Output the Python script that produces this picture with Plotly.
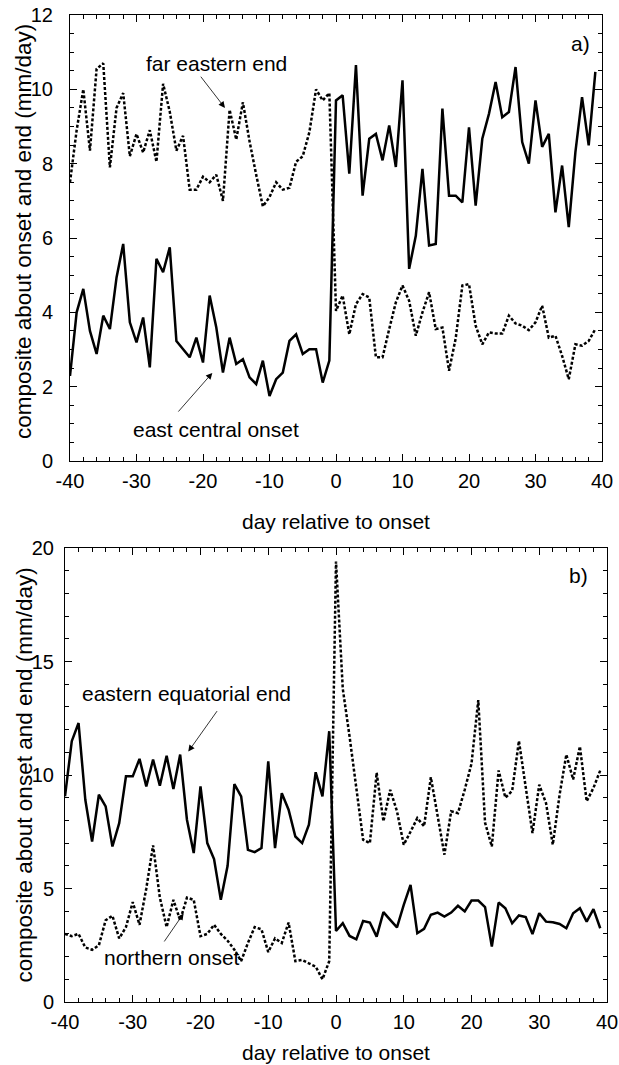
import plotly.graph_objects as go

days = list(range(-40, 40))
day_ticks = [-40, -30, -20, -10, 0, 10, 20, 30, 40]
day_tick_labels = ["-40", "-30", "-20", "-10", "0", "10", "20", "30", "40"]

# panel a) far eastern end / east central onset
east_central_onset = [
    2.29, 4.0, 4.63, 3.5, 2.88, 3.91, 3.55, 4.94, 5.84, 3.73,
    3.19, 3.86, 2.52, 5.44, 5.08, 5.75, 3.23, 3.01, 2.79, 3.32,
    2.65, 4.45, 3.59, 2.38, 3.32, 2.61, 2.74, 2.25, 2.07, 2.7,
    1.75, 2.2, 2.38, 3.23, 3.41, 2.88, 3.01, 3.01, 2.11, 2.7,
    9.7, 9.84, 7.73, 10.65, 7.14, 8.67, 8.8, 8.09, 9.03, 7.91,
    10.24, 5.17, 6.06, 7.86, 5.8, 5.84, 9.48, 7.14, 7.14, 6.96,
    8.98, 6.87, 8.67, 9.34, 10.2, 9.25, 9.39, 10.6, 8.58, 8.0,
    9.7, 8.45, 8.8, 6.69, 7.95, 6.29, 8.31, 9.79, 8.49, 10.47,
]
far_eastern_end = [
    7.5, 8.9, 10.0, 8.35, 10.55, 10.7, 7.9, 9.5, 9.9, 8.2,
    8.8, 8.3, 8.9, 8.05, 10.15, 9.4, 8.35, 8.75, 7.3, 7.3,
    7.65, 7.5, 7.7, 7.0, 9.45, 8.65, 9.65, 8.6, 7.7, 6.85,
    7.1, 7.5, 7.3, 7.35, 8.05, 8.2, 8.85, 10.0, 9.7, 9.9,
    4.04, 4.45, 3.41, 4.22, 4.49, 4.4, 2.79, 2.79, 3.55, 4.27,
    4.72, 4.31, 3.37, 4.0, 4.54, 3.55, 3.59, 2.43, 3.3, 4.72,
    4.76, 3.64, 3.14, 3.46, 3.43, 3.43, 3.91, 3.7, 3.64, 3.52,
    3.73, 4.18, 3.32, 3.37, 2.83, 2.2, 3.14, 3.1, 3.23, 3.55,
]

# panel b) eastern equatorial end / northern onset
eastern_equatorial_end = [
    9.06, 11.49, 12.29, 8.91, 7.07, 9.13, 8.62, 6.85, 7.88, 9.94,
    9.94, 10.71, 9.5, 10.68, 9.53, 10.85, 9.38, 10.9, 8.03, 6.56,
    9.5, 7.0, 6.3, 4.5, 6.0, 9.6, 9.06, 6.7, 6.6, 6.78,
    10.6, 6.78, 9.2, 8.47, 7.29, 7.0, 7.81, 10.12, 9.06, 11.93,
    3.13, 3.47, 2.91, 2.76, 3.57, 3.5, 2.88, 3.96, 3.62, 3.29,
    4.28, 5.16, 3.03, 3.22, 3.84, 3.94, 3.76, 3.94, 4.24, 3.99,
    4.47, 4.47, 4.18, 2.44, 4.38, 4.13, 3.47, 3.81, 3.74, 2.99,
    3.91, 3.54, 3.51, 3.44, 3.25, 3.91, 4.13, 3.54, 4.09, 3.25,
]
northern_onset = [
    3.0, 2.9, 3.0, 2.4, 2.3, 2.5, 3.6, 3.8, 2.8, 3.3,
    4.4, 3.4, 5.0, 6.9, 4.6, 3.3, 4.5, 3.6, 4.6, 4.5,
    2.9, 3.0, 3.4, 3.0, 2.7, 2.3, 1.8, 2.6, 3.3, 3.2,
    2.2, 2.8, 2.6, 3.5, 1.8, 1.85, 1.7, 1.56, 1.0, 1.8,
    19.4, 13.8, 11.7, 9.5, 7.15, 7.0, 10.1, 7.96, 9.35, 8.4,
    6.93, 7.5, 8.1, 7.74, 9.9, 8.2, 6.49, 8.4, 8.32, 9.35,
    10.5, 13.3, 7.9, 6.85, 10.2, 9.0, 9.3, 11.5, 9.5, 7.44,
    9.57, 8.76, 6.93, 9.13, 10.9, 9.8, 11.26, 8.84, 9.43, 10.2,
]

FONT = "Liberation Sans, Arial, Helvetica, sans-serif"
W, H = 619, 1065
solid = dict(color="black", width=2.5)
dotted = dict(color="black", width=2.5, dash="3px,2px")

fig = go.Figure()
fig.add_trace(go.Scatter(x=days, y=far_eastern_end, mode="lines", line=dotted, xaxis="x", yaxis="y"))
fig.add_trace(go.Scatter(x=days, y=east_central_onset, mode="lines", line=solid, xaxis="x", yaxis="y"))
fig.add_trace(go.Scatter(x=days, y=northern_onset, mode="lines", line=dotted, xaxis="x2", yaxis="y2"))
fig.add_trace(go.Scatter(x=days, y=eastern_equatorial_end, mode="lines", line=solid, xaxis="x2", yaxis="y2"))

axis_common = dict(
    showline=True, linecolor="black", linewidth=1, mirror="ticks", automargin=False,
    ticks="inside", ticklen=7, tickcolor="black", showgrid=False, zeroline=False,
    tickfont=dict(size=20, color="black", family=FONT),
)
x_common = dict(axis_common, range=[-40, 40], tickvals=day_ticks, ticktext=day_tick_labels,
                minor=dict(ticks="inside", ticklen=4, dtick=2, tick0=0, tickcolor="black"),
                ticklabelstandoff=2)

fig.update_layout(
    width=W, height=H,
    margin=dict(l=0, r=0, t=0, b=0),
    paper_bgcolor="white", plot_bgcolor="white",
    showlegend=False,
    font=dict(family=FONT, color="black", size=21),
    xaxis=dict(x_common, domain=[70 / W, 602 / W], anchor="y"),
    yaxis=dict(axis_common, domain=[1 - 461 / H, 1 - 15 / H], anchor="x",
               range=[0, 12], dtick=2, ticklabelstandoff=12,
               minor=dict(ticks="inside", ticklen=4, dtick=0.5, tickcolor="black")),
    xaxis2=dict(x_common, domain=[65 / W, 607 / W], anchor="y2"),
    yaxis2=dict(axis_common, domain=[1 - 1002 / H, 1 - 548 / H], anchor="x2",
                range=[0, 20], dtick=5, ticklabelstandoff=6,
                minor=dict(ticks="inside", ticklen=4, dtick=1, tickcolor="black")),
)

# axis titles
ytitle = "composite about onset and end (mm/day)"
for yc in (231.5, 775):
    fig.add_annotation(x=23.5 / W, y=1 - yc / H, xref="paper", yref="paper", text=ytitle,
                       textangle=-90, showarrow=False, font=dict(size=22.5),
                       xanchor="center", yanchor="middle")
for yc in (521, 1052):
    fig.add_annotation(x=336 / W, y=1 - yc / H, xref="paper", yref="paper", text="day relative to onset",
                       showarrow=False, xanchor="center", yanchor="middle")

arrow = dict(showarrow=True, arrowhead=2, arrowsize=1.6, arrowwidth=0.8, arrowcolor="black", text="")
fig.add_annotation(x=36.7, y=11.24, xref="x", yref="y", text="a)", showarrow=False)
fig.add_annotation(x=-18.0, y=10.7, xref="x", yref="y", text="far eastern end", showarrow=False)
fig.add_annotation(arrow, x=-16.7, y=9.5, ax=-20.5, ay=10.38, xref="x", yref="y", axref="x", ayref="y")
fig.add_annotation(x=-18.0, y=0.86, xref="x", yref="y", text="east central onset", showarrow=False)
fig.add_annotation(arrow, x=-18.6, y=2.37, ax=-23.9, ay=1.29, xref="x", yref="y", axref="x", ayref="y")

fig.add_annotation(x=35.8, y=18.8, xref="x2", yref="y2", text="b)", showarrow=False)
fig.add_annotation(x=-22.1, y=13.6, xref="x2", yref="y2", text="eastern equatorial end", showarrow=False)
fig.add_annotation(arrow, x=-21.8, y=11.03, ax=-17.4, ay=12.88, xref="x2", yref="y2", axref="x2", ayref="y2")
fig.add_annotation(x=-24.2, y=1.94, xref="x2", yref="y2", text="northern onset", showarrow=False)
fig.add_annotation(arrow, x=-22.5, y=3.9, ax=-25.5, ay=2.6, xref="x2", yref="y2", axref="x2", ayref="y2")

# drop the default page margin so the figure sits at the window's corner
fig.write_html("out.html", config={"displayModeBar": False},
               post_script="document.body.style.margin='0';document.body.style.overflow='hidden';")
